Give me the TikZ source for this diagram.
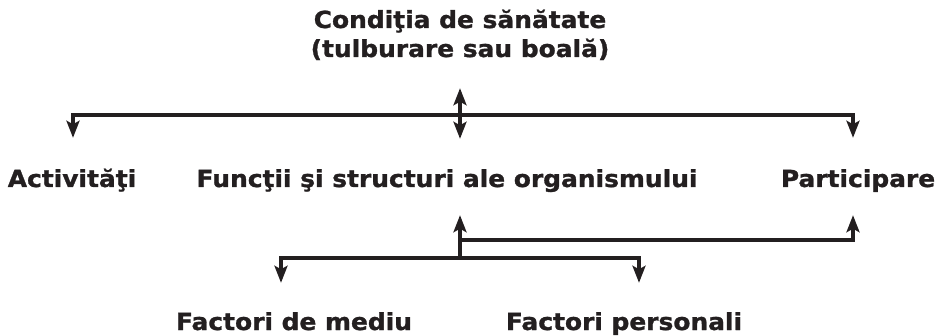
\documentclass[tikz,border=0pt]{standalone}
\usepackage{fontspec}
\setmainfont{DejaVu Sans}[FakeStretch=1.06, BoldFeatures={FakeBold=1.2}]
\usetikzlibrary{arrows.meta,positioning}
\definecolor{negru}{HTML}{231F20}
\tikzstyle{termen} = [font=\bfseries\fontsize{23.5}{29}\selectfont, text=negru,
    inner sep=0pt, text height=16pt, text depth=5pt, anchor=base]
\tikzstyle{linie} = [draw=negru, line width=3.2pt,
    -{Stealth[length=17pt,width=13pt,inset=3.5pt]}]
\tikzstyle{dubla} = [draw=negru, line width=3.2pt,
    {Stealth[length=17pt,width=13pt,inset=3.5pt]}-{Stealth[length=17pt,width=13pt,inset=3.5pt]}]

\begin{document}
\begin{tikzpicture}[x=1pt,y=-1pt]
\useasboundingbox (0,0) rectangle (944,336);
% texte
\node [termen] (conditie) at (460,28) {Condiţia de sănătate};
\node [termen] (boala) at (460,57) {(tulburare sau boală)};
\node [termen] (activitati) at (72,187) {Activităţi};
\node [termen] (functii) at (447,187) {Funcţii şi structuri ale organismului};
\node [termen] (participare) at (858,187) {Participare};
\node [termen] (mediu) at (294,330) {Factori de mediu};
\node [termen] (personal) at (624,330) {Factori personali};
% ramificatii
\coordinate (sus) at (460,115);
\coordinate (jos) at (460,258);
\coordinate (dreapta) at (460,240);
% sageti
\draw [dubla, shorten <=26pt, shorten >=32pt]
    (boala.south) -- ([xshift=13pt]functii.north);
\draw [linie, shorten >=33pt] (sus) -| ([xshift=1pt]activitati.north);
\draw [linie, shorten >=33pt] (sus) -| ([xshift=-5pt]participare.north);
\draw [linie, shorten >=23pt] (jos) -- ([xshift=13pt]functii.south);
\draw [linie, shorten >=23pt] (dreapta) -| ([xshift=-5pt]participare.south);
\draw [linie, shorten >=31pt] (jos) -| ([xshift=-13pt]mediu.north);
\draw [linie, shorten >=31pt] (jos) -| ([xshift=15pt]personal.north);
\end{tikzpicture}
\end{document}
